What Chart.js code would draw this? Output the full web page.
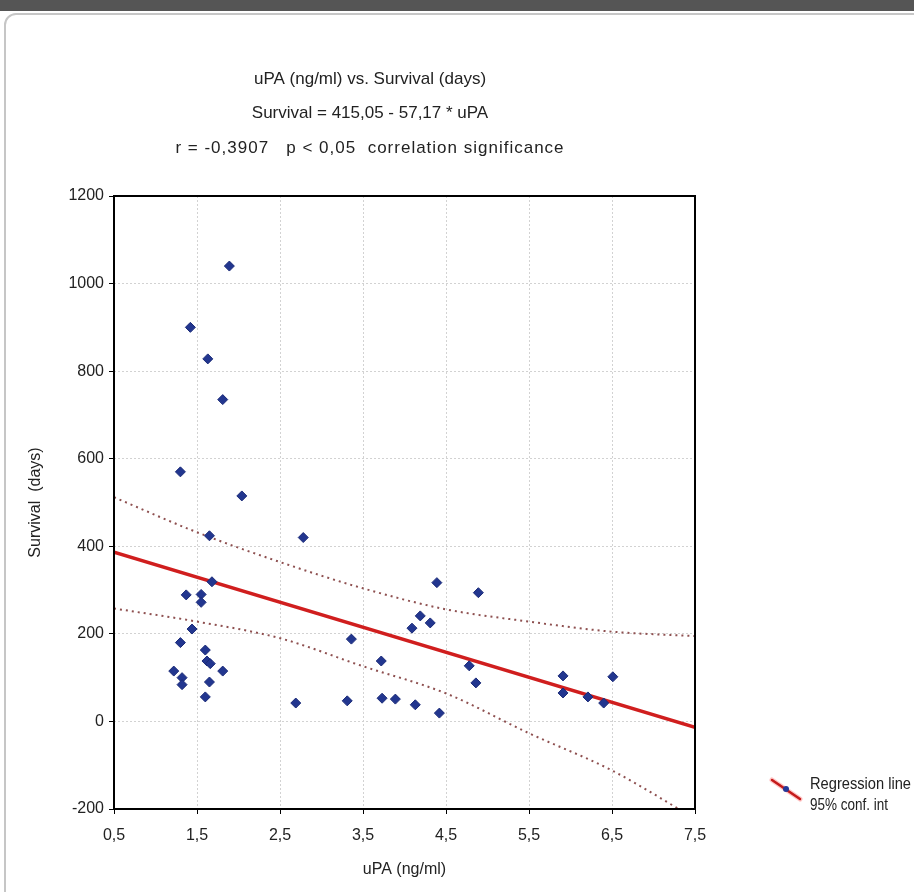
<!DOCTYPE html>
<html lang="en">
<head>
<meta charset="UTF-8">
<title>uPA vs. Survival</title>
<script src="https://cdn.jsdelivr.net/npm/chart.js"></script>
<style>
  body { margin: 0; width: 914px; height: 892px; overflow: hidden; background: #fff; position: relative; }
  .topbar { position: absolute; left: 0; top: 0; width: 914px; height: 11px; background: #555; }
  .card { position: absolute; left: 4px; top: 13px; width: 940px; height: 920px; border: 2px solid #c6c6c6; border-radius: 12px; }
  .wrap { position: absolute; left: 0; top: 0; width: 914px; height: 892px; }
</style>
</head>
<body>
<div class="topbar"></div>
<div class="card"></div>
<div class="wrap"><canvas id="chart" width="914" height="892"></canvas></div>
<script>
const uPA = [1.89, 1.42, 1.63, 1.81, 1.30, 2.04, 1.65, 2.78, 1.68, 1.37, 1.55, 1.55,
             1.44, 1.30, 1.60, 1.62, 1.66, 1.81, 1.22, 1.32, 1.32, 1.65, 1.60,
             4.39, 4.19, 4.31, 4.09, 3.36, 3.72, 2.69, 3.31, 3.73, 3.89, 4.13, 4.42,
             4.89, 4.78, 4.86, 5.91, 5.91, 6.51, 6.40, 6.21];
const survival = [1040, 900, 828, 735, 570, 515, 424, 420, 319, 289, 290, 272,
                  211, 180, 163, 138, 132, 115, 115, 100, 84, 90, 56,
                  317, 241, 225, 213, 188, 138, 42, 47, 53, 51, 38, 19,
                  294, 127, 88, 104, 65, 102, 42, 56];

// regression line: Survival = 415,05 - 57,17 * uPA
const regX = [0.5, 7.5];
const regY = [386.5, -13.7];

// 95% confidence band
const ciX = [0.5, 1.5, 2.5, 3.5, 4.5, 5.5, 6.5, 7.5];
const ciUpper = [512, 432, 364, 304, 256, 228, 205, 195];
const ciLower = [258, 228, 190, 126, 64, -27, -112, -222];

const xTicks = [0.5, 1.5, 2.5, 3.5, 4.5, 5.5, 6.5, 7.5];
const yTicks = [-200, 0, 200, 400, 600, 800, 1000, 1200];

const titleLines = [
  'uPA (ng/ml) vs. Survival (days)',
  'Survival = 415,05 - 57,17 * uPA',
  'r = -0,3907   p < 0,05  correlation significance'
];
const legendLines = ['Regression line', '95% conf. int'];

const FONT = "'Liberation Sans', Arial, sans-serif";
const pts = (xs, ys) => xs.map((x, i) => ({ x: x, y: ys[i] }));

// title, plot frame and legend
const decor = {
  id: 'decor',
  afterDraw(chart) {
    const ctx = chart.ctx;
    const a = chart.chartArea;
    ctx.save();
    ctx.strokeStyle = '#000';
    ctx.lineWidth = 2;
    ctx.strokeRect(a.left, a.top, a.right - a.left, a.bottom - a.top);

    ctx.fillStyle = '#222';
    ctx.font = '17px ' + FONT;
    ctx.textAlign = 'center';
    ctx.textBaseline = 'middle';
    const spacing = ['0px', '0px', '1px'];
    titleLines.forEach((t, i) => {
      ctx.letterSpacing = spacing[i];
      ctx.fillText(t, 370, 79 + i * 34.5);
    });
    ctx.letterSpacing = '0px';

    // legend sample
    ctx.lineCap = 'round';
    ctx.strokeStyle = 'rgba(255,140,140,0.5)';
    ctx.lineWidth = 5;
    ctx.beginPath(); ctx.moveTo(772, 780); ctx.lineTo(800, 799); ctx.stroke();
    ctx.strokeStyle = '#c41a1a';
    ctx.lineWidth = 2.5;
    ctx.beginPath(); ctx.moveTo(772, 780); ctx.lineTo(800, 799); ctx.stroke();
    ctx.fillStyle = '#24399a';
    ctx.beginPath(); ctx.arc(786, 789, 3, 0, Math.PI * 2); ctx.fill();

    ctx.fillStyle = '#222';
    ctx.textAlign = 'left';
    ctx.font = '17px ' + FONT;
    const lw = [101, 78];
    legendLines.forEach((t, i) => ctx.fillText(t, 810, 784 + i * 21, lw[i]));
    ctx.restore();
  }
};

new Chart(document.getElementById('chart'), {
  type: 'scatter',
  data: {
    datasets: [
      {
        label: 'Upper 95%',
        data: pts(ciX, ciUpper),
        showLine: true,
        borderColor: '#8e5050',
        borderWidth: 2,
        borderDash: [2, 4],
        cubicInterpolationMode: 'monotone',
        pointRadius: 0,
        order: 3
      },
      {
        label: 'Lower 95%',
        data: pts(ciX, ciLower),
        showLine: true,
        borderColor: '#8e5050',
        borderWidth: 2,
        borderDash: [2, 4],
        cubicInterpolationMode: 'monotone',
        pointRadius: 0,
        order: 3
      },
      {
        label: 'Regression line',
        data: pts(regX, regY),
        showLine: true,
        borderColor: '#d01e1e',
        borderWidth: 3.5,
        pointRadius: 0,
        order: 2
      },
      {
        label: 'Survival',
        data: pts(uPA, survival),
        pointStyle: 'rectRot',
        pointRadius: 5,
        backgroundColor: '#22368f',
        borderColor: '#1b2b78',
        borderWidth: 1,
        order: 1
      }
    ]
  },
  options: {
    responsive: false,
    animation: false,
    layout: { padding: { top: 196, right: 219, bottom: 0, left: 0 } },
    plugins: { legend: { display: false }, tooltip: { enabled: false } },
    scales: {
      x: {
        type: 'linear',
        min: 0.5,
        max: 7.5,
        afterBuildTicks: s => { s.ticks = xTicks.map(v => ({ value: v })); },
        afterFit: s => { s.height = 83; },
        ticks: {
          callback: v => v.toFixed(1).replace('.', ','),
          color: '#222',
          font: { family: FONT, size: 16 },
          padding: 12,
          maxRotation: 0,
          autoSkip: false
        },
        grid: { color: '#d2d2d2', tickColor: '#000', tickLength: 5 },
        border: { display: false, dash: [2, 2] },
        title: {
          display: true,
          text: 'uPA (ng/ml)',
          color: '#222',
          font: { family: FONT, size: 16 },
          padding: { top: 0, bottom: 13 }
        }
      },
      y: {
        min: -200,
        max: 1200,
        afterBuildTicks: s => { s.ticks = yTicks.map(v => ({ value: v })); },
        afterFit: s => { s.width = 114; },
        ticks: {
          callback: v => String(v),
          color: '#222',
          font: { family: FONT, size: 16 },
          padding: 5
        },
        grid: { color: '#d2d2d2', tickColor: '#000', tickLength: 5 },
        border: { display: false, dash: [2, 2] },
        title: {
          display: true,
          text: 'Survival  (days)',
          color: '#222',
          font: { family: FONT, size: 16 },
          padding: { top: 26, bottom: 0 }
        }
      }
    }
  },
  plugins: [decor]
});
</script>
</body>
</html>
